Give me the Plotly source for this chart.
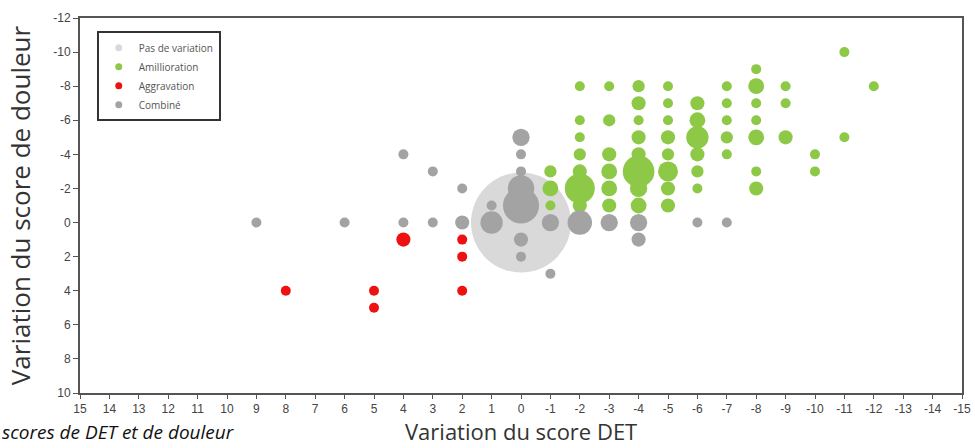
import plotly.graph_objects as go

# ---- data (DET change on x, pain score change on y, n = weight for bubble area) ----
pas_x = [0]
pas_y = [0]
pas_n = [100]

amel_x = [-1, -1, -1,
          -2, -2, -2, -2, -2, -2, -2,
          -3, -3, -3, -3, -3, -3,
          -4, -4, -4, -4, -4, -4, -4, -4,
          -5, -5, -5, -5, -5, -5, -5, -5,
          -6, -6, -6, -6, -6, -6,
          -7, -7, -7, -7, -7,
          -8, -8, -8, -8, -8, -8, -8,
          -9, -9, -9,
          -10, -10,
          -11, -11,
          -12]
amel_y = [-3, -2, -1,
          -8, -6, -5, -4, -3, -2, -1,
          -8, -6, -4, -3, -2, -1,
          -8, -7, -6, -5, -4, -3, -2, -1,
          -8, -7, -6, -5, -4, -3, -2, -1,
          -7, -6, -5, -4, -3, -2,
          -8, -7, -6, -5, -4,
          -9, -8, -7, -6, -5, -3, -2,
          -8, -7, -5,
          -4, -3,
          -10, -5,
          -8]
amel_n = [1.5, 2.5, 1,
          1, 1, 1, 1.5, 2, 9, 2,
          1, 1.5, 2, 2.5, 2.5, 2,
          1.5, 2, 1, 2, 2, 10, 3, 2.5,
          1, 1, 1, 2, 1.5, 4, 2, 2,
          2, 2.5, 5, 2, 1.5, 1,
          1, 1, 1, 1.5, 1,
          1, 2.5, 1, 1, 2.5, 1, 2,
          1, 1, 2,
          1, 1,
          1, 1,
          1]

aggr_x = [4, 2, 2, 2, 5, 5, 8]
aggr_y = [1, 1, 2, 4, 4, 5, 4]
aggr_n = [2, 1, 1, 1, 1, 1, 1]

comb_x = [9, 6, 4, 4, 3, 3, 2, 2, 1, 1, 0, 0, 0, 0, 0, 0, 0, -1, -1, -2, -3, -4, -4, -6, -7]
comb_y = [0, 0, -4, 0, -3, 0, -2, 0, -1, 0, -5, -4, -3, -2, -1, 1, 2, 0, 3, 0, 0, 0, 1, 0, 0]
comb_n = [1, 1, 1, 1, 1, 1, 1, 2, 1, 5, 3, 1, 1, 7, 13, 2, 1, 3, 1, 6, 3, 3, 2, 1, 1]

series_names = ["Pas de variation", "Amillioration", "Aggravation", "Combiné"]
series_colors = ["#D9D9D9", "#8DC947", "#EE1111", "#A3A3A3"]

x_ticks = list(range(15, -16, -1))
x_tick_labels = [str(v) for v in x_ticks]
y_ticks = list(range(-12, 11, 2))
y_tick_labels = [str(v) for v in y_ticks]

x_title = "Variation du score DET"
y_title = "Variation du score de douleur"
caption = "scores de DET et de douleur"

SIZEREF = 0.02

fig = go.Figure()

data = [(pas_x, pas_y, pas_n), (amel_x, amel_y, amel_n),
        (aggr_x, aggr_y, aggr_n), (comb_x, comb_y, comb_n)]

for (xs, ys, ns), name, color in zip(data, series_names, series_colors):
    fig.add_trace(go.Scatter(
        x=xs, y=ys, mode="markers", name=name, legendgroup=name, showlegend=False,
        marker=dict(size=ns, sizemode="area", sizeref=SIZEREF, color=color,
                    line=dict(width=0), opacity=1),
        hoverinfo="x+y+name",
    ))

# legend entries with small constant symbols
for name, color in zip(series_names, series_colors):
    fig.add_trace(go.Scatter(
        x=[None], y=[None], mode="markers", name=name, legendgroup=name,
        marker=dict(size=7, color=color), showlegend=True,
    ))

tickfont = dict(family="Liberation Sans, Arial, sans-serif", size=12, color="#444444")

fig.update_layout(
    width=975, height=448,
    margin=dict(l=80, r=13, t=18, b=55),
    paper_bgcolor="white", plot_bgcolor="white",
    showlegend=True,
    legend=dict(
        x=0.019, y=0.965, xanchor="left", yanchor="top",
        bgcolor="white", bordercolor="#333333", borderwidth=2,
        font=dict(family="Open Sans, sans-serif", size=10, color="#555555"),
        tracegroupgap=0, itemwidth=30,
    ),
    xaxis=dict(
        range=[15, -15], tickmode="array", tickvals=x_ticks, ticktext=x_tick_labels,
        showgrid=False, zeroline=False, showline=True, linecolor="#555555", linewidth=2,
        mirror=True, ticks="outside", ticklen=4, tickcolor="#555555",
        tickfont=tickfont, automargin=False,
    ),
    yaxis=dict(
        range=[10, -12], tickmode="array", tickvals=y_ticks, ticktext=y_tick_labels,
        showgrid=False, zeroline=False, showline=True, linecolor="#555555", linewidth=2,
        mirror=True, ticks="outside", ticklen=5, tickcolor="#555555",
        tickfont=tickfont, automargin=False,
        title=dict(text=y_title,
                   font=dict(family="Open Sans, sans-serif", size=26, color="#333333")),
    ),
    annotations=[
        dict(text=x_title, x=0.5, y=0, xref="paper", yref="paper",
             xanchor="center", yanchor="top", yshift=-21, showarrow=False,
             font=dict(family="Open Sans, sans-serif", size=22, color="#333333")),
        dict(text="<i>" + caption + "</i>", x=0, y=0, xref="paper", yref="paper",
             xanchor="left", yanchor="top", xshift=-80, yshift=-24, showarrow=False,
             font=dict(family="Open Sans, sans-serif", size=19, color="#111111")),
    ],
)

fig.write_html("out.html", config={"displayModeBar": False},
               post_script="document.body.style.margin='0';")
